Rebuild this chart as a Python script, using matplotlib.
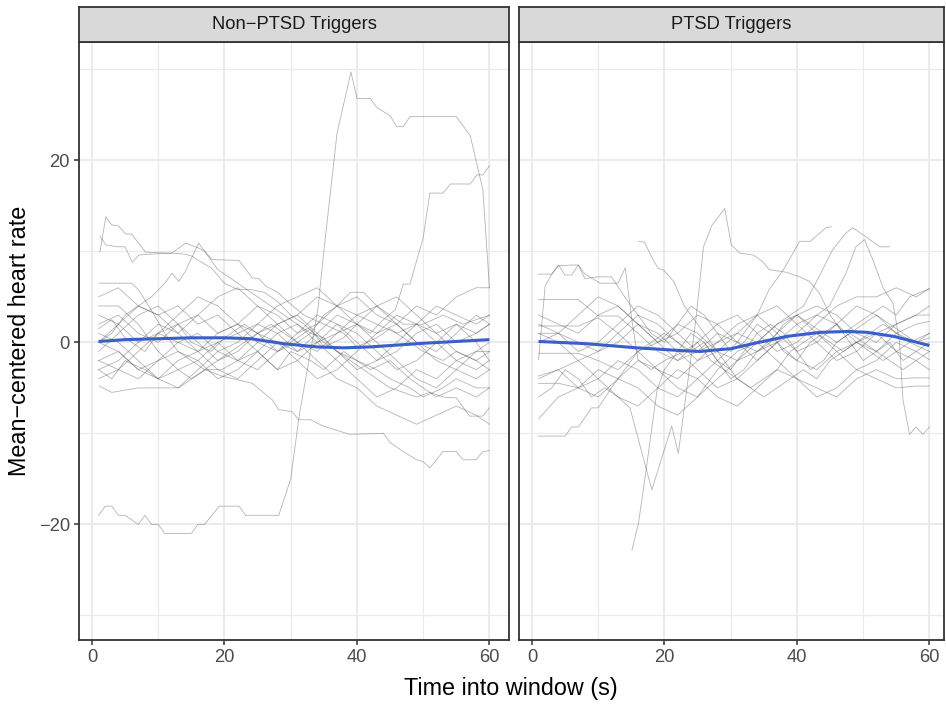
import matplotlib
matplotlib.use("Agg")
import matplotlib.pyplot as plt
from matplotlib.ticker import MultipleLocator

plt.rcParams["font.family"] = ["Liberation Sans", "DejaVu Sans"]

panel_titles = ["Non\u2212PTSD Triggers", "PTSD Triggers"]

# shared coarse time grid used for the dense "background" traces
grid_t = [1, 4, 7, 10, 13, 16, 19, 22, 25, 28, 31, 34, 37, 40, 43, 46, 49, 52, 55, 58, 60]

# ---- Non-PTSD panel: individually traced windows ----
np_lines_t = [
    [1, 2, 3, 4, 5, 7, 8, 9, 10, 11, 15, 16, 17, 19.2, 22.2, 23.2, 28.2, 30, 31.3, 34.1, 35,
     37, 39.1, 40, 42, 43, 45, 46, 47, 48, 55, 57.1, 59, 60],
    [1, 3, 5, 8, 10, 13, 15, 18, 20, 23, 25, 28, 30, 33, 35, 38, 40, 42, 44, 45.8, 47, 48,
     50, 51, 53, 54.1, 57.1, 58.1, 59, 60],
    [1.2, 2.1, 3, 4, 5.1, 6, 8.1, 12, 13, 14.1, 16, 17.1, 18.1, 22.2, 24.2, 25.2, 26.2, 28,
     30, 32, 35, 38, 40, 43, 45, 48, 50, 53, 55, 58, 60],
    [1.2, 2.1, 4, 5, 6.1, 7.1, 9, 12, 14, 15, 17, 18, 20, 22, 24, 26, 28, 30, 32, 35, 37, 40,
     42, 45, 48, 50, 52, 55, 58, 60],
    [1, 3, 5, 7, 9, 11, 12.1, 13.1, 14.1, 16.1, 17, 19, 21, 23, 25, 27, 29, 31, 33, 35, 37,
     39, 41, 43, 45, 47, 49, 51, 53, 55, 57, 59, 60],
    [1, 3, 5, 8, 10, 13, 15, 17.1, 19.6, 24.2, 27.2, 28.2, 30.2, 31.2, 33, 34.9, 38.9, 44, 45,
     47, 49, 50, 51, 53, 55, 56, 58, 59, 60],
    [1.1, 3, 7, 10, 13.1, 17.1, 19.6, 22, 25, 28, 30, 33, 35, 38, 40, 43, 45, 48, 50, 53, 55,
     58, 60],
    [1.1, 6, 7, 9, 11, 13, 15, 17, 19, 21, 23, 25, 27, 29, 31, 33, 35, 37, 39, 41, 43, 45, 47,
     50, 53, 56, 60],
]
np_lines_v = [
    [-19, -18, -18, -19, -19, -20, -19, -20, -20, -21, -21, -20, -20, -18, -18, -19, -19, -15,
     -8, 3.6, 10, 23, 29.7, 26.8, 26.8, 25.8, 24.9, 23.7, 23.7, 24.8, 24.8, 22.7, 16.8, 6.0],
    [1.5, 2.5, 0.5, -1, 1, 2, 0, -1, 0.5, 2, 1, -1, 0, 1.5, -0.5, 0.5, 2, 1, 2.5, 3.6, 6.4,
     6.4, 11.5, 16.4, 16.4, 17.4, 17.4, 18.4, 18.4, 19.4],
    [9.9, 13.8, 12.9, 12.8, 11.9, 11.9, 9.9, 9.8, 10.3, 10.9, 10.4, 10, 9.1, 9.0, 7.1, 7.0,
     6.2, 5.5, 4.2, 3, 2, 1, -0.5, 0.5, 1.5, 0, -1, -2, -1, -2, -1],
    [11.7, 10.7, 10.5, 10.5, 8.8, 9.6, 9.7, 9.8, 9.7, 9.5, 8.6, 8.2, 6.5, 5.8, 5.8, 5.5, 4.5,
     3, 2, 0, -1, -2, -3, -2, -4, -5, -6, -5, -6, -5],
    [0, 1, 3, 4, 5, 6.5, 7.6, 6.7, 7.8, 10.9, 10, 8, 7, 6, 5, 4, 3, 2, 1, 0.5, -1, -2, -3, -4,
     -5, -5.5, -6, -5.5, -6, -6.1, -8.1, -8.1, -7.2],
    [-3, -4, -2, -3, -4, -3, -4, -3, -3.7, -4.5, -6.3, -7.4, -7.6, -8.5, -8.5, -9.2, -10.1,
     -10, -11, -12, -12.9, -13.1, -13.8, -12, -12, -12.9, -12.9, -12, -11.9],
    [-4.8, -5.5, -5, -5, -5, -3, -3, -2, -1, -3, -1, -2, -3, -1, -2, -3, -4, -5, -6, -5, -4,
     -5, -5],
    [6.5, 6.5, 5.8, 3.5, 1, -1, -2, -3, -2, -1, 0, 1, 2, 1, 0, 1, 3, 4, 5.5, 5.5, 4, 3, 2, 2,
     3, 2, 3],
]
np_background = [
    [2, 3, 1, 0, 2, 3, 1, 2, 4, 3, 1, 2, 4, 5, 3, 2, 4, 3, 5, 6, 6],
    [-2, -3, -1, 1, 0, -1, 1, 2, 0, -1, 1, 3, 2, 0, -2, -1, 1, 2, 0, 1, 2],
    [0, -1, -3, -2, 0, 1, -1, -2, 0, 2, 3, 1, -1, -3, -2, 0, 2, 1, -1, -2, -3],
    [4, 4, 2, -1, -3, -2, 0, 1, -1, -3, -2, 0, 1, 3, 4, 2, 0, -1, 1, 3, 2],
    [-1, 1, 3, 4, 2, 0, -2, -1, 1, 0, -2, -4, -3, -1, 1, 2, 0, -2, -3, -1, 0],
    [1, 0, -2, -4, -5, -3, -1, 0, 2, 1, -1, 0, 2, 1, -1, -3, -2, 0, 2, 1, 2],
    [3, 2, 0, 1, 3, 5, 4, 2, 1, 2, 0, -1, 1, 2, 0, -2, -4, -5, -3, -4, -3],
    [-3, -2, 0, 2, 1, 3, 5, 6, 4, 2, 3, 5, 4, 2, 1, 3, 2, 0, -2, -1, -1],
    [0, 2, 4, 3, 1, -1, -3, -4, -2, 0, -1, 1, 3, 2, 4, 5, 3, 1, 2, 0, -2],
    [-4, -3, -4, -2, -1, -2, -4, -3, -1, 1, 2, 0, -2, -4, -6, -5, -3, -4, -2, -3, -2],
    [5, 6, 4, 3, 4, 2, 3, 1, 2, 4, 5, 6, 4, 3, 2, 1, 2, 4, 3, 2, 3],
    [-2, -1, -3, -4, -2, -1, 0, -2, -3, -1, 0, -2, -4, -5, -7, -8, -9, -8, -7, -8, -9],
]
np_smooth_t = [1, 5, 10, 15, 20, 24, 29, 34, 38, 42, 46, 50, 55, 60]
np_smooth_v = [0.1, 0.3, 0.4, 0.5, 0.5, 0.4, -0.15, -0.5, -0.6, -0.5, -0.3, -0.1, 0.1, 0.3]

# ---- PTSD panel: individually traced windows ----
pt_lines_t = [
    [1, 3, 4, 5, 6, 7, 8, 10.3, 13, 14.1, 15, 16, 18, 20, 23, 25, 27, 29, 31, 33, 35, 37, 39,
     41, 43, 45, 47, 49, 51, 53, 55, 57, 60],
    [1, 2, 3, 4, 6, 7, 8, 10, 12, 14, 16, 18, 20, 22, 24, 26, 28, 30, 32, 34, 36, 38, 40, 42,
     44, 46, 48, 50, 52, 54, 56, 58, 60],
    [1, 5, 6, 7, 9, 10, 12, 14, 16, 18, 20, 22, 24, 26, 28, 30, 32, 34, 36, 38, 40, 42, 44, 46,
     48, 50, 52, 54, 56, 58, 60],
    [15.1, 16.1, 17.1, 18.9, 20, 22, 24, 26, 28, 30, 32, 34, 36, 38, 40, 42, 44, 46, 48, 50,
     52, 54, 56, 58, 60],
    [1, 3, 5, 7, 9, 11, 13, 14.8, 18.1, 21.1, 22.1, 24.7, 25.9, 27.2, 29.1, 30.1, 31.4, 33.4,
     34.8, 35.8, 38.4, 40.4, 41.9, 43.4, 45, 47, 49, 51, 53, 55, 57, 60],
    [16.1, 17, 18.4, 19.1, 19.8, 21.4, 23, 25, 27, 29, 31, 33, 35, 37, 39, 41, 43, 45, 47, 49,
     51, 53, 55, 57, 60],
    [1, 4, 7, 10, 13, 16, 19, 22, 25, 28, 31, 34, 37, 40, 43, 44.9, 47.4, 48.9, 50.2, 51.5,
     53, 54.5, 55.5, 56, 57, 58, 59, 60],
    [1, 4, 7, 10, 13, 16, 19, 22, 25, 28, 31, 34, 35.8, 38, 40.4, 42, 44.4, 45.2],
    [1, 4, 7, 10, 13, 16, 19, 22, 25, 28, 31, 34, 37, 39, 41, 43.4, 45.4, 47.4, 48.4, 50.4,
     52.5, 54],
]
pt_lines_v = [
    [7.5, 7.5, 8.5, 7.4, 7.4, 8.5, 7.5, 6.5, 6.5, 8.2, 2.9, -1.9, -3, -2, -1, 0, -2, -3, -4,
     -5, -4, -3, -1, 0, 1, 0, -1, 0, 1, 2, 1, 0, 1],
    [-1.9, 6.2, 7.5, 8.4, 8.5, 8.5, 7.0, 7.2, 7.2, 5, 3, 1, 0, 2, 4, 3, 1, -1, 0, 2, 1, -1, -2,
     0, 1, 2, 0, -2, -1, 0, -2, -1, 0],
    [-10.3, -10.3, -9.3, -9.3, -7.2, -7.2, -5, -3, -1, 0, 1, 0, -1, 0, -2, -4, -3, -1, 0, 2,
     3, 2, 1, 0, 1, 2, 3, 2, 1, 0, 1],
    [-22.8, -19.8, -14.7, -5.2, -3, -1, 1, 0, -2, -3, -1, 1, 2, 1, -1, -3, -2, 0, 1, 0, -1,
     -2, -3, -2, -3],
    [-6, -5, -3, -4, -6, -5, -6, -7.2, -16.2, -9.2, -12.2, 2.2, 10.5, 12.9, 14.7, 10.7, 9.8,
     9.6, 8.9, 8.0, 7.7, 7.2, 6.7, 5.4, 3, 1, 2, 3, 4, 3, 5, 5.9],
    [11.1, 11, 8.9, 8.1, 8.0, 6.7, 4, 2, 0, -2, -4, -5, -6, -5, -4, -3, -4, -2, -1, 0, -1, -2,
     -1, 0, -1],
    [3, 2, 1, 3, 4, 2, 0, -2, -1, 1, 0, -2, 0, 2, 3, 4.0, 7.6, 10.5, 11.3, 9, 6, 4.3, 0, -6.3,
     -10.1, -9.3, -10.1, -9.3],
    [-4, -3, -5, -4, -2, -3, -5, -6, -4, -2, 0, 3, 5.8, 8, 11.1, 11.1, 12.6, 12.7],
    [1, 0, -2, -1, 1, 3, 2, 0, -2, -1, 1, 0, 2, 3, 4, 7.3, 10.2, 12, 12.6, 11.6, 10.5, 10.5],
]
pt_background = [
    [4.7, 4.7, 4.7, 2.9, 2.9, 1, -1, -2, 0, 2, 3, 1, -1, 0, 2, 4, 5, 5, 6, 5, 5.9],
    [1.8, 1.8, 1.8, 2.7, 1, -1, -3, -4, -2, 0, 1, 3, 4, 2, 0, -2, -1, 1, 2, 3, 4],
    [1.0, 1.0, 0, -1, 0, 2, 1, -1, -3, -5, -4, -2, 0, 1, 3, 2, 0, -1, 1, 2, 2.3],
    [-1.2, -1.2, -1.2, -2, -3, -1, 0, 2, 1, -1, -2, 0, 2, 3, 1, -1, -3, -2, 0, -1, -1.9],
    [-3.7, -3, -2, -4, -6, -7, -5, -3, -4, -6, -7, -5, -3, -4, -5, -6, -4, -3, -4, -3.9, -3.9],
    [-4.5, -4.5, -5, -6, -4, -2, -3, -5, -6, -4, -2, -1, 0, -2, -3, -1, 0, 1, -1, -2, -1],
    [-8.4, -6, -5, -3, -4, -5, -7, -8, -6, -3, -1, 0, -2, -4, -6, -5, -3, -4, -5, -4.8, -4.8],
    [0, 1, 3, 5, 4, 2, 0, 1, 3, 2, 0, -1, 1, 3, 4, 3, 1, 0, 2, 3, 3],
    [2, 1, -1, 0, 2, 4, 3, 1, -1, 0, 2, 3, 1, -1, 0, 2, 4, 3, 1, 0, 0.5],
]
pt_smooth_t = [1, 8.3, 15.8, 22.4, 25.4, 28.3, 30, 33.3, 38.5, 43.5, 47.6, 50.6, 54.6, 57.6, 60]
pt_smooth_v = [0.1, -0.15, -0.6, -0.9, -1.0, -0.8, -0.7, -0.15, 0.66, 1.1, 1.2, 1.1, 0.66, 0.1,
               -0.35]

GREY_LINE = "#4d4d4d"
BLUE = "#3a5fc8"
DARK = "#333333"
W, H = 946, 706

fig = plt.figure(figsize=(W / 100, H / 100), dpi=100)

panels = [
    (79, 430, (-1.95, 62.95), np_lines_t, np_lines_v, np_background, np_smooth_t, np_smooth_v),
    (519, 425, (-1.95, 62.2), pt_lines_t, pt_lines_v, pt_background, pt_smooth_t, pt_smooth_v),
]
top_px, bottom_px, strip_px = 42, 640, 35

for i, (x0, wpx, xlim, lt, lv, bg, st, sv) in enumerate(panels):
    ax = fig.add_axes([x0 / W, (H - bottom_px) / H, wpx / W, (bottom_px - top_px) / H])
    for vals in bg:
        ax.plot(grid_t, vals, color=GREY_LINE, alpha=0.42, lw=0.6)
    for tt, vv in zip(lt, lv):
        ax.plot(tt, vv, color=GREY_LINE, alpha=0.42, lw=0.6)
    ax.plot(st, sv, color=BLUE, lw=2.2, solid_capstyle="butt")

    ax.set_xlim(*xlim)
    ax.set_ylim(-32.7, 33.0)
    ax.xaxis.set_major_locator(MultipleLocator(20))
    ax.xaxis.set_minor_locator(MultipleLocator(10))
    ax.yaxis.set_major_locator(MultipleLocator(20))
    ax.yaxis.set_minor_locator(MultipleLocator(10))
    ax.grid(which="major", color="#ebebeb", lw=1.5)
    ax.grid(which="minor", color="#ebebeb", lw=0.9)
    ax.set_axisbelow(True)
    for s in ax.spines.values():
        s.set_color(DARK)
        s.set_linewidth(1.3)
    ax.tick_params(which="minor", length=0)
    ax.tick_params(which="major", length=3.6, width=1.1, color=DARK, labelsize=13.2,
                   labelcolor="#4d4d4d", pad=3)
    if i == 1:
        ax.tick_params(axis="y", which="major", left=False, labelleft=False)

    sax = fig.add_axes([x0 / W, (H - top_px) / H, wpx / W, strip_px / H])
    sax.set_xticks([])
    sax.set_yticks([])
    sax.set_facecolor("#d9d9d9")
    for s in sax.spines.values():
        s.set_color(DARK)
        s.set_linewidth(1.3)
    sax.text(0.5, 0.5, panel_titles[i], transform=sax.transAxes, ha="center", va="center",
             fontsize=13.2, color="#1a1a1a")

fig.text(20 / W, (H - 341) / H, "Mean\u2212centered heart rate", rotation=90, ha="center",
         va="center", fontsize=16.8)
fig.text(511 / W, (H - 688) / H, "Time into window (s)", ha="center", va="center",
         fontsize=16.8)

fig.savefig("out.png", dpi=100)
plt.close(fig)
